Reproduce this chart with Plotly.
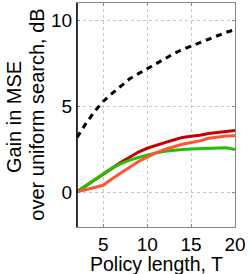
import plotly.graph_objects as go

T = list(range(2, 21))
bound = [3.2, 4.0, 4.7, 5.3, 5.75, 6.2, 6.6, 6.9, 7.2, 7.5, 7.8, 8.05, 8.3, 8.5, 8.7, 8.9, 9.1, 9.3, 9.45]
dark_red = [0.05, 0.4, 0.75, 1.1, 1.42, 1.75, 2.05, 2.35, 2.57, 2.75, 2.9, 3.05, 3.2, 3.27, 3.32, 3.43, 3.48, 3.53, 3.6]
green = [0.05, 0.4, 0.75, 1.1, 1.42, 1.68, 1.88, 2.03, 2.17, 2.3, 2.4, 2.46, 2.5, 2.53, 2.55, 2.57, 2.6, 2.6, 2.5]
orange = [0.05, 0.18, 0.3, 0.42, 0.8, 1.15, 1.5, 1.8, 2.05, 2.3, 2.5, 2.65, 2.8, 2.9, 3.0, 3.15, 3.23, 3.28, 3.3]

xticks = [5, 10, 15, 20]
yticks = [0, 5, 10]
x_title = "Policy length, T"
y_title_lines = ["Gain in MSE", "over uniform search, dB"]

fig = go.Figure()
fig.add_trace(go.Scatter(x=T, y=bound, mode="lines",
                         line=dict(color="black", width=3, dash="6px,5px")))
fig.add_trace(go.Scatter(x=T, y=dark_red, mode="lines",
                         line=dict(color="#c40000", width=3)))
fig.add_trace(go.Scatter(x=T, y=green, mode="lines",
                         line=dict(color="#22c000", width=3)))
fig.add_trace(go.Scatter(x=T, y=orange, mode="lines",
                         line=dict(color="#ff5533", width=3)))

axis_common = dict(
    showgrid=True, gridcolor="#c8c8c8", griddash="dot", gridwidth=1,
    zeroline=False, showline=True, linecolor="#888888", linewidth=1,
    mirror="allticks", ticks="inside", ticklen=3, tickcolor="#888888",
    tickfont=dict(size=19, color="black"),
)

annotations = [
    dict(text=x_title, xref="paper", yref="paper", x=0.504, y=-0.163,
         xanchor="center", yanchor="middle", showarrow=False, font=dict(size=19.5)),
    dict(text=y_title_lines[0], xref="paper", yref="paper", x=-0.402, y=0.493,
         xanchor="center", yanchor="middle", textangle=-90, showarrow=False, font=dict(size=20)),
    dict(text=y_title_lines[1], xref="paper", yref="paper", x=-0.259, y=0.502,
         xanchor="center", yanchor="middle", textangle=-90, showarrow=False, font=dict(size=20)),
]

fig.update_layout(
    width=249, height=274,
    margin=dict(l=77, r=14, t=3, b=47),
    paper_bgcolor="white", plot_bgcolor="white",
    showlegend=False,
    font=dict(family="Liberation Sans, Arial, Helvetica, sans-serif", color="black"),
    xaxis=dict(range=[2, 20], tickvals=xticks, automargin=False, **axis_common),
    yaxis=dict(range=[-2, 11], tickvals=yticks, automargin=False, **axis_common),
    annotations=annotations,
    shapes=[dict(type="line", xref="paper", yref="paper", x0=0, x1=0, y0=0, y1=1,
                 line=dict(color="black", width=1.5))],
)

fig.write_html("out.html", config={"displayModeBar": False},
               post_script="document.body.style.margin='0';")
